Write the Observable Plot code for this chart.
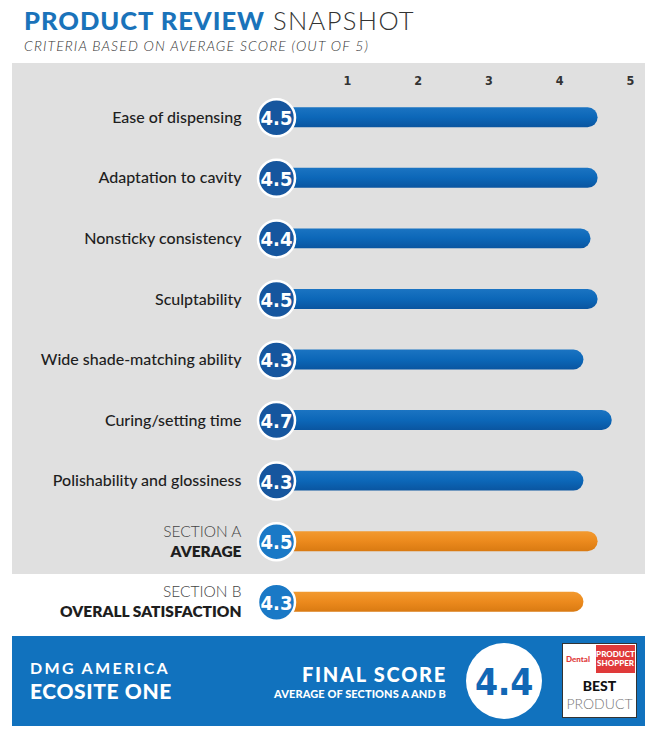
<!DOCTYPE html>
<html>
<head>
<meta charset="utf-8">
<script src="https://cdn.jsdelivr.net/npm/d3@7"></script>
<script src="https://cdn.jsdelivr.net/npm/@observablehq/plot@0.6"></script>
<style>
  html, body { margin: 0; padding: 0; background: #fff; }
  body { width: 656px; height: 734px; position: relative; overflow: hidden; font-family: Lato, "Open Sans", sans-serif; }
  .abs { position: absolute; line-height: 1; white-space: nowrap; }
  #t1 { left: 24px; top: 7.5px; font-size: 25.5px; color: #1a73ba; font-weight: 900; }
  #t2 { left: 273px; top: 7.5px; font-size: 25.5px; color: #333; font-weight: 300; }
  #subtitle { left: 24px; top: 38.5px; font-size: 14px; font-style: italic; font-weight: 300; color: #333; }
  #panel { left: 12px; top: 63px; width: 633px; height: 511px; background: #e0e0e0; }
  #chart { left: 0; top: 63px; }
  #footer { left: 12px; top: 636px; width: 633px; height: 90px; background: #1172be; }
  .ft { position: absolute; color: #fff; white-space: nowrap; line-height: 1; }
</style>
</head>
<body>
<div id="t1" class="abs">PRODUCT REVIEW</div>
<div id="t2" class="abs">SNAPSHOT</div>
<div id="subtitle" class="abs">CRITERIA BASED ON AVERAGE SCORE (OUT OF 5)</div>
<div id="panel" class="abs"></div>
<div id="chart" class="abs"></div>
<div id="footer" class="abs"></div>

<script>
// ---- data ----
const criteria = [
  "Ease of dispensing",
  "Adaptation to cavity",
  "Nonsticky consistency",
  "Sculptability",
  "Wide shade-matching ability",
  "Curing/setting time",
  "Polishability and glossiness"
];
const criteriaScores = [4.5, 4.5, 4.4, 4.5, 4.3, 4.7, 4.3];
const sectionTitles = ["SECTION A", "SECTION B"];
const sectionNames = ["AVERAGE", "OVERALL SATISFACTION"];
const sectionScores = [4.5, 4.3];
const xTicks = [1, 2, 3, 4, 5];
const company = ["DMG AMERICA"];
const product = ["ECOSITE ONE"];
const finalScore = [4.4];

// ---- build tables ----
const critRows = criteria.map((c, i) => ({key: c, label: c, score: criteriaScores[i]}));
const secRows = sectionTitles.map((s, i) => ({key: s, title: s, name: sectionNames[i], score: sectionScores[i]}));
const allRows = critRows.concat(secRows);

const condensed = "'DejaVu Sans Condensed', 'DejaVu Sans', sans-serif";

const chart = Plot.plot({
  width: 656,
  height: 571,
  marginLeft: 276,
  marginRight: 26,
  marginTop: 24,
  marginBottom: 2,
  style: {background: "transparent", fontFamily: "Lato, sans-serif", overflow: "visible"},
  x: {domain: [0, 5], axis: null},
  y: {domain: allRows.map(d => d.key), axis: null, padding: 0, round: false},
  marks: [
    Plot.axisX({anchor: "top", ticks: xTicks, tickSize: 0, tickPadding: 3, tickFormat: d => d, label: null,
      fontSize: 12.5, fontWeight: "bold", fontFamily: condensed, fill: "#333"}),
    Plot.barX(critRows, {x1: 0, x2: "score", y: "key", insetTop: 20.3, insetBottom: 20.3, insetRight: -3, rx: 10, fill: "url(#gradBlue)"}),
    Plot.barX(secRows, {x1: 0, x2: "score", y: "key", insetTop: 20.3, insetBottom: 20.3, insetRight: -3, rx: 10, fill: "url(#gradOrange)"}),
    Plot.dot(critRows, {x: 0, y: "key", r: 18.5, fill: "#16569e", stroke: "#fff", strokeWidth: 2.5}),
    Plot.dot(secRows, {x: 0, y: "key", r: 18.5, fill: "#1a79c6", stroke: "#fff", strokeWidth: 2.5}),
    Plot.text(allRows, {x: 0, y: "key", text: d => d.score.toFixed(1), fill: "#fff", fontSize: 20,
      fontWeight: "bold", fontFamily: condensed, dy: 1}),
    Plot.text(critRows, {y: "key", text: "label", frameAnchor: "left", dx: -35, textAnchor: "end",
      fontSize: 16, fill: "#1e1e1e", fontWeight: 500}),
    Plot.text(secRows, {y: "key", text: "title", frameAnchor: "left", dx: -35, dy: -10, textAnchor: "end",
      fontSize: 15.5, fill: "#444", fontWeight: 300}),
    Plot.text(secRows, {y: "key", text: "name", frameAnchor: "left", dx: -35, dy: 10, textAnchor: "end",
      fontSize: 15.5, fill: "#1e1e1e", fontWeight: 800})
  ]
});

// gradients for the bars
const ns = "http://www.w3.org/2000/svg";
const defs = document.createElementNS(ns, "defs");
defs.innerHTML = `
  <linearGradient id="gradBlue" x1="0" y1="0" x2="0" y2="1">
    <stop offset="0" stop-color="#1b74c2"/>
    <stop offset="0.5" stop-color="#0c67b8"/>
    <stop offset="1" stop-color="#0a55a0"/>
  </linearGradient>
  <linearGradient id="gradOrange" x1="0" y1="0" x2="0" y2="1">
    <stop offset="0" stop-color="#f29a30"/>
    <stop offset="0.5" stop-color="#ec8a1d"/>
    <stop offset="1" stop-color="#d97a12"/>
  </linearGradient>`;
chart.insertBefore(defs, chart.firstChild);
document.getElementById("chart").appendChild(chart);

// footer
const f = document.getElementById("footer");
f.innerHTML = `
  <div id="fCo" class="ft" style="left:18px;top:24px;font-size:16px;font-weight:700;">${company[0]}</div>
  <div id="fPr" class="ft" style="left:18px;top:44px;font-size:21px;font-weight:900;">${product[0]}</div>
  <div id="fFs" class="ft" style="left:290px;top:28px;font-size:20px;font-weight:900;">FINAL SCORE</div>
  <div id="fAv" class="ft" style="left:260px;top:52px;font-size:11px;font-weight:900;">AVERAGE OF SECTIONS A AND B</div>
  <div class="ft" style="left:453.5px;top:7px;width:76px;height:76px;border-radius:50%;background:#fff;"></div>
  <div id="fSc" class="ft" style="left:463px;top:27.7px;color:#1167b5;font-size:37px;font-weight:bold;font-family:${condensed};">${finalScore[0].toFixed(1)}</div>
  <div class="ft" style="left:550px;top:7px;width:73px;height:73px;background:#fff;border:1px solid #333;">
    <div style="position:absolute;left:3px;top:11px;font-size:8px;font-weight:900;color:#e03a3a;">Dental</div>
    <div style="position:absolute;left:33px;top:1px;width:39px;height:28px;background:#e03a3a;color:#fff;font-size:8px;font-weight:900;line-height:9px;text-align:center;padding-top:5px;box-sizing:border-box;">PRODUCT<br>SHOPPER</div>
    <div style="position:absolute;left:0;width:73px;top:35px;text-align:center;color:#111;font-size:14px;font-weight:900;line-height:1;">BEST</div>
    <div style="position:absolute;left:0;width:73px;top:53px;text-align:center;color:#777;font-size:14px;font-weight:300;line-height:1;">PRODUCT</div>
  </div>`;

// fit text widths to the reference layout (letter-spacing only)
function fit(id, left, right) {
  const el = document.getElementById(id);
  const n = el.textContent.length;
  const w = el.getBoundingClientRect().width;
  el.style.letterSpacing = ((right - left) - w) / n + "px";
  el.style.left = (left - (el.parentElement === document.body ? 0 : 12)) + "px";
}
fit("t1", 24, 265);
fit("t2", 273, 415);
fit("subtitle", 24, 369);
fit("fCo", 30, 170);
fit("fPr", 30, 172);
fit("fFs", 302, 447);
fit("fAv", 274, 446);
fit("fSc", 475, 533);
</script>
</body>
</html>
